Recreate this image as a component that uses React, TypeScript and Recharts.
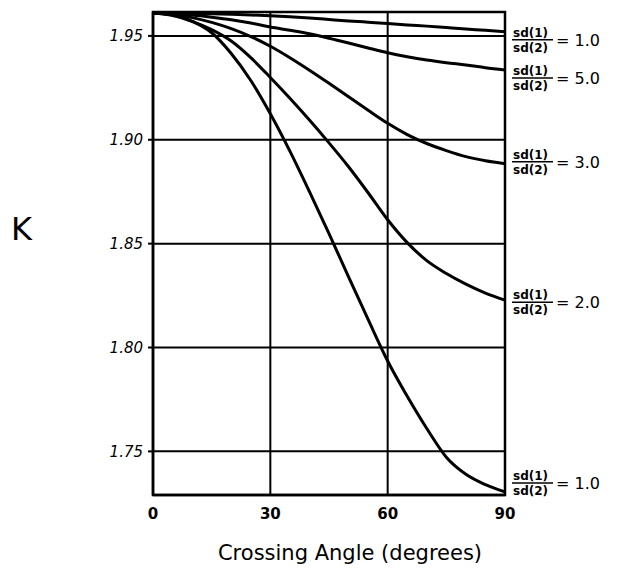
import React from 'react';
import {
  LineChart,
  Line,
  XAxis,
  YAxis,
  CartesianGrid,
  ReferenceArea,
  LabelList,
  Label,
} from 'recharts';

// Crossing angle (degrees)
const angles = [0, 5, 10, 15, 20, 25, 30, 35, 40, 45, 50, 55, 60, 65, 70, 75, 80, 85, 90];

// K values for each sd(1)/sd(2) curve
const ratio1Top = [1.961, 1.9609, 1.9608, 1.9606, 1.9604, 1.9601, 1.9597, 1.9592, 1.9586, 1.9579, 1.9572, 1.9566, 1.956, 1.9553, 1.9547, 1.954, 1.9533, 1.9527, 1.952];
const ratio5 = [1.961, 1.9607, 1.96, 1.959, 1.9578, 1.9562, 1.9543, 1.9527, 1.951, 1.9489, 1.9466, 1.9442, 1.9419, 1.94, 1.9384, 1.9371, 1.936, 1.9347, 1.9336];
const ratio3 = [1.961, 1.9603, 1.9588, 1.9565, 1.9535, 1.9497, 1.945, 1.9395, 1.9335, 1.9272, 1.9207, 1.9142, 1.9079, 1.9025, 1.8982, 1.8948, 1.8919, 1.8899, 1.8885];
const ratio2 = [1.961, 1.9598, 1.957, 1.953, 1.9475, 1.9395, 1.93, 1.92, 1.9095, 1.8985, 1.887, 1.8745, 1.8615, 1.8505, 1.8418, 1.8356, 1.8305, 1.8262, 1.8228];
const ratio1Bottom = [1.961, 1.9603, 1.957, 1.9515, 1.9415, 1.9285, 1.9125, 1.8945, 1.875, 1.8548, 1.834, 1.8135, 1.7935, 1.7765, 1.761, 1.7472, 1.739, 1.734, 1.7305];

const xTicks = [0, 30, 60, 90];
const yTicks = [1.75, 1.8, 1.85, 1.9, 1.95];
const yDomain: [number, number] = [1.729, 1.9615];

const seriesKeys = ['r1top', 'r5', 'r3', 'r2', 'r1bot'];
const seriesLabels = ['1.0', '5.0', '3.0', '2.0', '1.0'];
const labelShift = [8, 8, -2, 2, -9];

const data = angles.map((a, i) => ({
  angle: a,
  r1top: ratio1Top[i],
  r5: ratio5[i],
  r3: ratio3[i],
  r2: ratio2[i],
  r1bot: ratio1Bottom[i],
}));

const FONT = '"DejaVu Sans", sans-serif';

const makeEndLabel = (seriesIndex: number) => (props: any) => {
  const { x, y, index } = props;
  if (index !== data.length - 1) return null;
  const bx = Number(x) + 7;
  const by = Number(y) + labelShift[seriesIndex];
  return (
    <g>
      <text x={bx + 1} y={by - 3} fontSize={12} fontWeight="bold" fontFamily={FONT} fill="#000">
        sd(1)
      </text>
      <line x1={bx} x2={bx + 41} y1={by} y2={by} stroke="#000" strokeWidth={1.5} />
      <text x={bx + 1} y={by + 12} fontSize={12} fontWeight="bold" fontFamily={FONT} fill="#000">
        sd(2)
      </text>
      <text x={bx + 44} y={by + 6} fontSize={16} fontFamily={FONT} fill="#000">
        {'= ' + seriesLabels[seriesIndex]}
      </text>
    </g>
  );
};

export default function App() {
  return (
    <LineChart
      width={604}
      height={559}
      data={data}
      margin={{ top: 4, right: 107, left: 85, bottom: 42 }}
    >
      <CartesianGrid stroke="#000" strokeWidth={2} strokeDasharray="" />
      <XAxis
        dataKey="angle"
        type="number"
        domain={[0, 90]}
        ticks={xTicks}
        height={30}
        axisLine={{ stroke: '#000', strokeWidth: 2.5 }}
        tickLine={false}
        tickSize={6}
        tickMargin={7}
        tick={{ fill: '#000', fontSize: 15, fontWeight: 'bold', fontFamily: FONT }}
      >
        <Label
          content={(p: any) => {
            const vb = p.viewBox || {};
            const cx = vb.x + vb.width / 2 + 21;
            return (
              <text x={cx} y={552} textAnchor="middle" fontSize={21} fontFamily={FONT} fill="#000">
                Crossing Angle (degrees)
              </text>
            );
          }}
        />
      </XAxis>
      <YAxis
        type="number"
        domain={yDomain}
        ticks={yTicks}
        width={60}
        allowDataOverflow
        tickFormatter={(v: number) => v.toFixed(2)}
        axisLine={{ stroke: '#000', strokeWidth: 2.5 }}
        tickLine={{ stroke: '#000', strokeWidth: 2 }}
        tickSize={5}
        tickMargin={5}
        tick={{ fill: '#000', fontSize: 15, fontStyle: 'italic', fontFamily: FONT }}
      >
        <Label
          content={() => (
            <text x={24} y={232} textAnchor="end" fontSize={32} fontFamily={FONT} fill="#000">
              K
            </text>
          )}
        />
      </YAxis>
      <ReferenceArea
        x1={0}
        x2={90}
        y1={yDomain[0]}
        y2={yDomain[1]}
        fill="none"
        fillOpacity={0}
        stroke="#000"
        strokeWidth={2.5}
        ifOverflow="visible"
      />
      {seriesKeys.map((k, i) => (
        <Line
          key={k}
          dataKey={k}
          type="monotone"
          stroke="#000"
          strokeWidth={3}
          dot={false}
          activeDot={false}
          isAnimationActive={false}
        >
          <LabelList dataKey={k} content={makeEndLabel(i)} />
        </Line>
      ))}
    </LineChart>
  );
}
